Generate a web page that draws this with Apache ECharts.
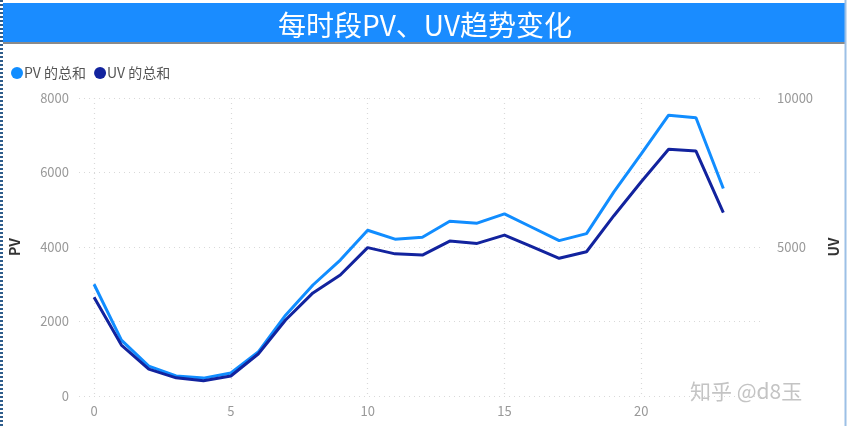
<!DOCTYPE html>
<html>
<head>
<meta charset="utf-8">
<script src="https://cdn.jsdelivr.net/npm/echarts@6/dist/echarts.min.js"></script>
<style>html,body{margin:0;padding:0;background:#fff;}#c{width:850px;height:426px;}</style>
</head>
<body>
<div id="c"></div>
<script>
const hours = [0,1,2,3,4,5,6,7,8,9,10,11,12,13,14,15,16,17,18,19,20,21,22,23];
const pvValues = [3000,1500,800,540,480,620,1180,2170,2980,3650,4450,4210,4260,4690,4640,4890,4530,4170,4360,5480,6500,7540,7470,5570];
const uvValues = [3310,1710,900,610,510,670,1410,2550,3460,4060,4980,4770,4730,5200,5120,5400,5010,4620,4840,6050,7190,8280,8220,6150];
const xTicks = [0,5,10,15,20];
const titleText = '每时段PV、UV趋势变化';
const pvName = 'PV 的总和';
const uvName = 'UV 的总和';

const chart = echarts.init(document.getElementById('c'));
const font = '"Noto Sans CJK SC", "Noto Sans", sans-serif';
const dotted = {show: true, lineStyle: {color: '#d9d9d9', type: [1, 4], width: 1.2}};
const plain = v => String(v);
chart.setOption({
  animation: false,
  textStyle: {fontFamily: font},
  graphic: [
    {type: 'rect', shape: {x: 3, y: 3, width: 842, height: 39}, style: {fill: '#1a8cff'}, z: 0},
    {type: 'rect', shape: {x: 3, y: 42, width: 842, height: 2}, style: {fill: '#8a8a8a'}, z: 0},
    {type: 'line', shape: {x1: 845.5, y1: 0, x2: 845.5, y2: 426}, style: {stroke: '#9cc0e6', lineWidth: 2}},
    {type: 'line', shape: {x1: 1.5, y1: 0, x2: 1.5, y2: 426}, style: {stroke: '#2f5d8c', lineWidth: 3, lineDash: [2, 2]}},
    {type: 'text', left: 690, top: 381, style: {text: '知乎 @d8玉', fill: '#c4c4c4', font: '21px "Noto Sans CJK SC", sans-serif'}}
  ],
  title: {
    text: titleText, left: 'center', top: 6,
    textStyle: {color: '#fff', fontSize: 28, fontWeight: 'normal', fontFamily: font}
  },
  legend: {
    left: 6, top: 61, icon: 'circle', itemWidth: 12, itemHeight: 12, itemGap: 8,
    textStyle: {color: '#555', fontSize: 14, padding: [0, 0, 0, -4]},
    data: [pvName, uvName]
  },
  grid: {left: 77, right: 87, top: 98, bottom: 30},
  xAxis: {
    type: 'value', min: -0.55, max: 24.45,
    axisLine: {show: false}, axisTick: {show: false, customValues: xTicks},
    axisLabel: {customValues: xTicks, color: '#999', fontSize: 13, margin: 9, formatter: plain},
    splitLine: dotted
  },
  yAxis: [
    {
      type: 'value', min: 0, max: 8000, interval: 2000,
      name: 'PV', nameLocation: 'middle', nameGap: 57, nameRotate: 90,
      nameTextStyle: {color: '#333', fontSize: 14, fontWeight: 'bold'},
      axisLine: {show: false}, axisTick: {show: false},
      axisLabel: {color: '#999', fontSize: 13, margin: 10, formatter: plain},
      splitLine: dotted
    },
    {
      type: 'value', min: 0, max: 10000, interval: 5000, position: 'right',
      name: 'UV', nameLocation: 'middle', nameGap: 64, nameRotate: 90,
      nameTextStyle: {color: '#333', fontSize: 14, fontWeight: 'bold'},
      axisLine: {show: false}, axisTick: {show: false},
      axisLabel: {color: '#999', fontSize: 13, margin: 14, showMinLabel: false, formatter: plain},
      splitLine: {show: false}
    }
  ],
  series: [
    {
      name: pvName, type: 'line', yAxisIndex: 0, showSymbol: false, symbol: 'none',
      data: hours.map((h, i) => [h, pvValues[i]]),
      lineStyle: {width: 3, color: '#118DFF'}, itemStyle: {color: '#118DFF'}
    },
    {
      name: uvName, type: 'line', yAxisIndex: 1, showSymbol: false, symbol: 'none',
      data: hours.map((h, i) => [h, uvValues[i]]),
      lineStyle: {width: 3, color: '#12239E'}, itemStyle: {color: '#12239E'}
    }
  ]
});
</script>
</body>
</html>
